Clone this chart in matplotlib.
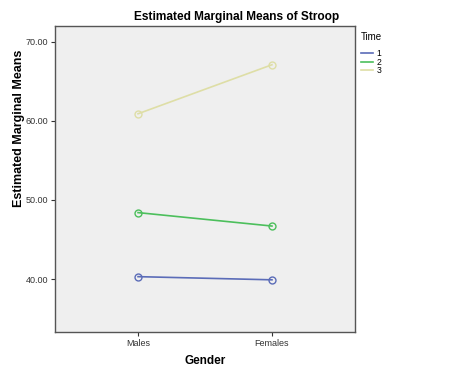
import matplotlib.pyplot as plt

plt.rcParams['font.family'] = ['Liberation Sans', 'DejaVu Sans']

# data
genders = ['Males', 'Females']
time_labels = ['1', '2', '3']
time1 = [40.3, 39.9]
time2 = [48.4, 46.7]
time3 = [60.9, 67.1]
colors = ['#5b6cb8', '#4cbf5c', '#dedea6']

fig = plt.figure(figsize=(4.74, 3.79), dpi=100)
ax = fig.add_axes([55 / 474, 1 - 332 / 379, 300 / 474, 306 / 379])
ax.set_facecolor('#efefef')

x = list(range(len(genders)))
for vals, lab, col in zip([time1, time2, time3], time_labels, colors):
    ax.plot(x, vals, color=col, linewidth=1.2, marker='o', markersize=5,
            markerfacecolor='none', markeredgecolor=col, label=lab)

ax.set_xlim(-0.62, 1.62)
ax.set_ylim(33.3, 72.0)
ax.set_xticks(x)
ax.set_xticklabels(genders, fontsize=6.5, color='#333333')
ax.set_yticks([40, 50, 60, 70])
ax.set_yticklabels(['40.00', '50.00', '60.00', '70.00'], fontsize=6.5, color='#333333')
ax.tick_params(length=3, width=0.8, colors='#333333', pad=2)
for s in ax.spines.values():
    s.set_color('#555555')
    s.set_linewidth(1.0)

fig.text(0.5, 1 - 17 / 379, 'Estimated Marginal Means of Stroop', fontsize=8.6,
         fontweight='bold', ha='center', va='center')
ax.set_xlabel('Gender', fontsize=8.5, fontweight='bold', labelpad=5)
ax.set_ylabel('Estimated Marginal Means', fontsize=9, fontweight='bold')
ax.yaxis.set_label_coords(-0.1, 0.667)

leg = ax.legend(title='Time', loc='upper left', bbox_to_anchor=(1.0, 1.0),
                frameon=False, fontsize=6.2, title_fontsize=7,
                handlelength=1.4, handletextpad=0.4, labelspacing=-0.05,
                borderaxespad=0.3)
leg._legend_box.align = 'left'
leg._legend_box.sep = 5
for h in leg.legend_handles:
    h.set_marker('')

plt.savefig('out.png', dpi=100)
